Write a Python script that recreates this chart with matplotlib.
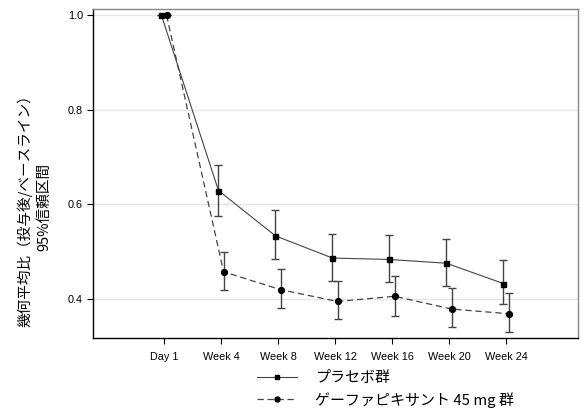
import matplotlib
matplotlib.use("Agg")
import matplotlib.pyplot as plt
import numpy as np

categories = ["Day 1", "Week 4", "Week 8", "Week 12", "Week 16", "Week 20", "Week 24"]
placebo = [1.0, 0.629, 0.533, 0.486, 0.483, 0.475, 0.432]
placebo_lo = [1.0, 0.575, 0.484, 0.438, 0.435, 0.427, 0.389]
placebo_hi = [1.0, 0.684, 0.587, 0.536, 0.534, 0.527, 0.481]
gefa = [1.0, 0.457, 0.419, 0.394, 0.405, 0.378, 0.368]
gefa_lo = [1.0, 0.419, 0.380, 0.356, 0.364, 0.340, 0.330]
gefa_hi = [1.0, 0.498, 0.462, 0.437, 0.449, 0.422, 0.411]
yticks = [0.4, 0.6, 0.8, 1.0]
labels = ["プラセボ群", "ゲーファピキサント 45 mg 群"]
ylabel = "幾何平均比（投与後/ベースライン）\n95%信頼区間"

plt.rcParams['font.family'] = ['Liberation Sans', 'Noto Sans CJK JP', 'DejaVu Sans']

fig = plt.figure(figsize=(5.84, 4.12), dpi=100)
ax = fig.add_axes([0.1584, 0.1789, 0.9892 - 0.1584, 0.9774 - 0.1789])

x = np.arange(len(categories))
off = 0.045

def err(v, lo, hi):
    v = np.array(v); lo = np.array(lo); hi = np.array(hi)
    return np.vstack([v - lo, hi - v])

ax.errorbar(x - off, placebo, yerr=err(placebo, placebo_lo, placebo_hi), fmt='none',
            ecolor='#444444', elinewidth=1.0, capsize=3, capthick=1.0, zorder=2)
ax.errorbar(x + off, gefa, yerr=err(gefa, gefa_lo, gefa_hi), fmt='none',
            ecolor='#444444', elinewidth=1.0, capsize=3, capthick=1.0, zorder=2)
l1, = ax.plot(x - off, placebo, '-', color='#444444', lw=0.8, marker='s', ms=3.6,
              mfc='black', mec='black', zorder=3)
l2, = ax.plot(x + off, gefa, '--', color='#444444', lw=0.9, marker='o', ms=4.2,
              mfc='black', mec='black', dashes=(5, 3), zorder=3)

ax.set_xlim(-1.255, 7.258)
ax.set_ylim(0.316, 1.013)
ax.set_xticks(x)
ax.set_xticklabels(categories, fontsize=7.8)
ax.set_yticks(yticks)
ax.set_yticklabels([f"{t:.1f}" for t in yticks], fontsize=7.8)
ax.yaxis.grid(True, color='#e6e6e6', lw=1.0)
ax.set_axisbelow(True)
ax.tick_params(length=4, width=0.8, color='black', pad=3)
ax.tick_params(axis='x', pad=6)
for s in ['left', 'bottom']:
    ax.spines[s].set_color('black')
    ax.spines[s].set_linewidth(1.0)
for s in ['top', 'right']:
    ax.spines[s].set_color('#888888')
    ax.spines[s].set_linewidth(1.0)

fig.text(34 / 584, 1 - 207 / 412, ylabel, rotation=90, ha='center', va='center',
         multialignment='center', fontsize=10.5, linespacing=1.4,
         family=['Noto Sans CJK JP', 'DejaVu Sans'])

leg = fig.legend([l1, l2], labels, loc='upper left', bbox_to_anchor=(257/584, 1 - 371/412),
                 frameon=False, borderpad=0, borderaxespad=0, handlelength=2.67,
                 handletextpad=1.2, labelspacing=0.45, markerscale=0.85,
                 prop={'family': ['Noto Sans CJK JP', 'DejaVu Sans'], 'size': 10.8})

fig.savefig("out.png", dpi=100)
